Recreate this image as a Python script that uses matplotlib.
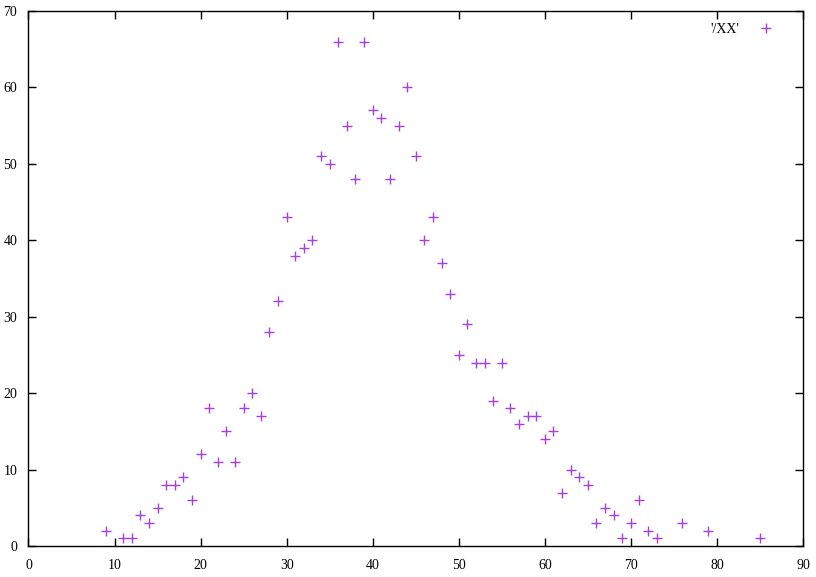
import matplotlib
matplotlib.use("Agg")
import matplotlib.pyplot as plt

# data
x_vals = [9, 11, 12, 13, 14, 15, 16, 17, 18, 19, 20, 21, 22, 23, 24, 25, 26, 27,
          28, 29, 30, 31, 32, 33, 34, 35, 36, 37, 38, 39, 40, 41, 42, 43, 44, 45,
          46, 47, 48, 49, 50, 51, 52, 53, 54, 55, 56, 57, 58, 59, 60, 61, 62, 63,
          64, 65, 66, 67, 68, 69, 70, 71, 72, 73, 76, 79, 85]
y_vals = [2, 1, 1, 4, 3, 5, 8, 8, 9, 6, 12, 18, 11, 15, 11, 18, 20, 17,
          28, 32, 43, 38, 39, 40, 51, 50, 66, 55, 48, 66, 57, 56, 48, 55, 60, 51,
          40, 43, 37, 33, 25, 29, 24, 24, 19, 24, 18, 16, 17, 17, 14, 15, 7, 10,
          9, 8, 3, 5, 4, 1, 3, 6, 2, 1, 3, 2, 1]
x_ticks = list(range(0, 91, 10))
y_ticks = list(range(0, 71, 10))

plt.rcParams["font.family"] = ["Liberation Serif", "DejaVu Serif"]

fig = plt.figure(figsize=(8.16, 5.77), dpi=100)
ax = fig.add_axes([0.0349, 0.0537, 0.9491, 0.9272])

# gnuplot-style '+' points
ax.plot(x_vals, y_vals, linestyle="none", marker="+", markersize=7.5,
        markeredgewidth=1.0, color="#A43FE2", label="'/XX'")

ax.set_xlim(0, 90)
ax.set_ylim(0, 70)
ax.set_xticks(x_ticks)
ax.set_yticks(y_ticks)
ax.tick_params(direction="in", top=True, right=True, length=6, width=1,
               labelsize=10)
ax.tick_params(axis="x", pad=9)
ax.tick_params(axis="y", pad=8)
for sp in ax.spines.values():
    sp.set_linewidth(1.0)

ax.legend(loc="upper right", bbox_to_anchor=(0.977, 0.988), frameon=False,
          markerfirst=False, fontsize=10, handlelength=2.0,
          handletextpad=0.87, borderaxespad=0.0)

fig.savefig("out.png", dpi=100)
plt.close(fig)
